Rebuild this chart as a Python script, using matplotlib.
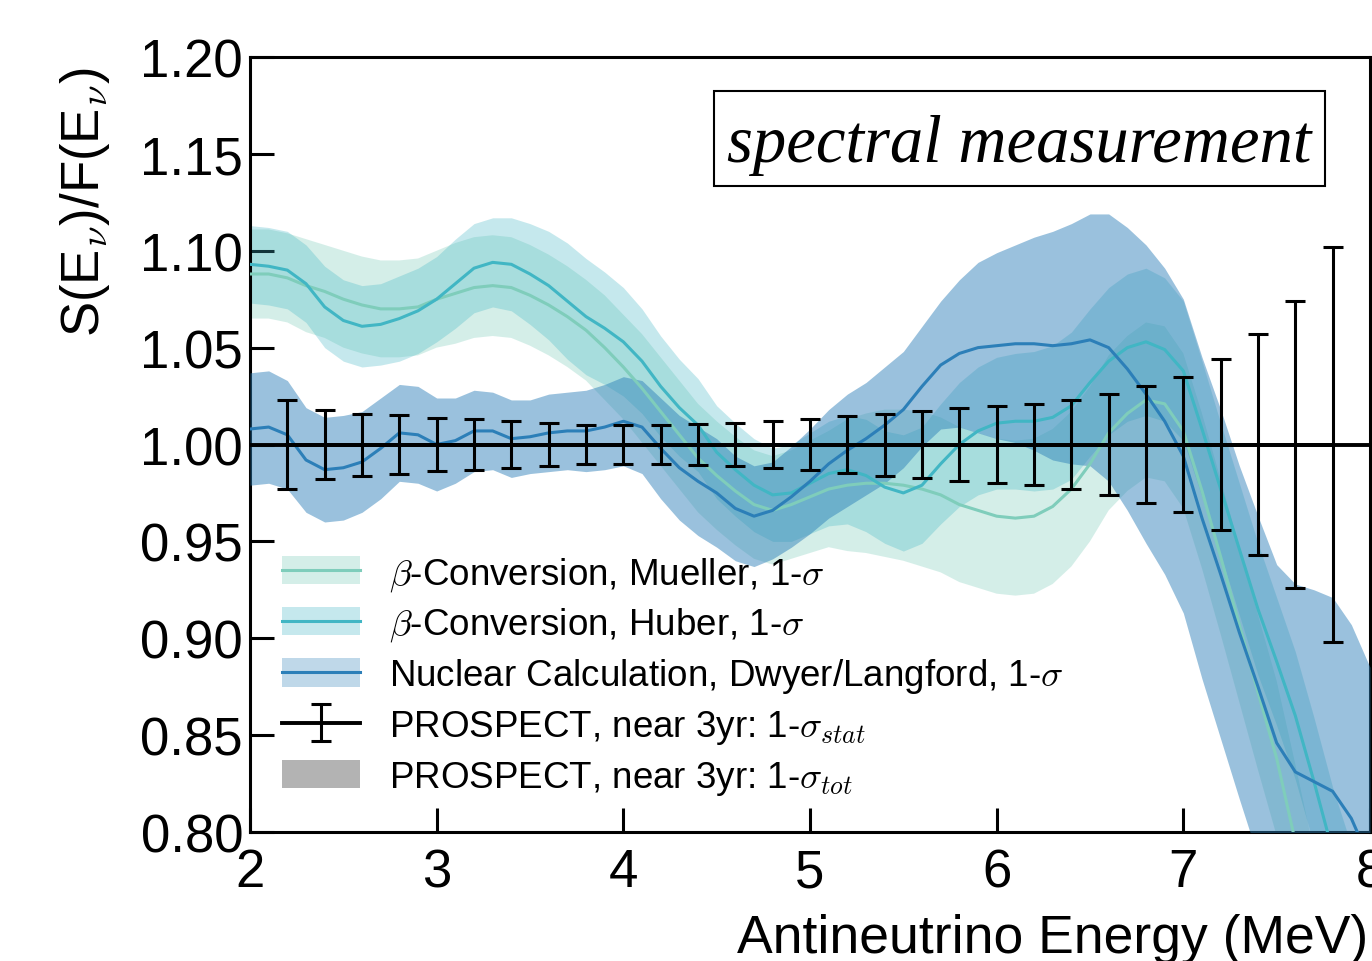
import numpy as np
import matplotlib
matplotlib.use('Agg')
import matplotlib.pyplot as plt
from matplotlib.patches import Patch, Rectangle
from matplotlib.lines import Line2D

plt.rcParams['font.family'] = ['Liberation Sans', 'DejaVu Sans']
plt.rcParams['mathtext.fontset'] = 'cm'

# ---------------- data ----------------
energy = [2.0, 2.1, 2.2, 2.3, 2.4, 2.5, 2.6, 2.7, 2.8, 2.9,
          3.0, 3.1, 3.2, 3.3, 3.4, 3.5, 3.6, 3.7, 3.8, 3.9,
          4.0, 4.1, 4.2, 4.3, 4.4, 4.5, 4.6, 4.7, 4.8, 4.9,
          5.0, 5.1, 5.2, 5.3, 5.4, 5.5, 5.6, 5.7, 5.8, 5.9,
          6.0, 6.1, 6.2, 6.3, 6.4, 6.5, 6.6, 6.7, 6.8, 6.9,
          7.0, 7.1, 7.2, 7.3, 7.4, 7.5, 7.6, 7.7, 7.8, 7.9, 8.0]

mueller = [1.088, 1.088, 1.086, 1.082, 1.079, 1.075, 1.072, 1.070, 1.070, 1.071,
           1.075, 1.078, 1.081, 1.082, 1.081, 1.077, 1.072, 1.066, 1.059, 1.050,
           1.040, 1.029, 1.017, 1.005, 0.993, 0.984, 0.976, 0.969, 0.966, 0.969,
           0.973, 0.977, 0.979, 0.980, 0.980, 0.979, 0.977, 0.974, 0.969, 0.966,
           0.963, 0.962, 0.963, 0.968, 0.977, 0.990, 1.006, 1.016, 1.023, 1.021,
           1.007, 0.976, 0.942, 0.907, 0.872, 0.838, 0.795, 0.750, 0.710, 0.680, 0.650]
mueller_err = [0.023, 0.023, 0.023, 0.024, 0.024, 0.025, 0.025, 0.025, 0.025, 0.025,
               0.025, 0.026, 0.026, 0.026, 0.026, 0.026, 0.026, 0.026, 0.026, 0.027,
               0.027, 0.028, 0.028, 0.028, 0.028, 0.028, 0.028, 0.028, 0.028, 0.028,
               0.029, 0.030, 0.034, 0.036, 0.038, 0.039, 0.040, 0.040, 0.040, 0.040,
               0.040, 0.040, 0.040, 0.040, 0.040, 0.040, 0.040, 0.040, 0.040, 0.040,
               0.040, 0.040, 0.040, 0.040, 0.040, 0.040, 0.040, 0.040, 0.040, 0.040, 0.040]

huber = [1.093, 1.092, 1.090, 1.083, 1.071, 1.064, 1.061, 1.062, 1.065, 1.069,
         1.075, 1.083, 1.091, 1.094, 1.093, 1.088, 1.082, 1.074, 1.066, 1.060,
         1.053, 1.043, 1.030, 1.019, 1.010, 0.996, 0.987, 0.979, 0.974, 0.975,
         0.980, 0.985, 0.987, 0.984, 0.978, 0.975, 0.979, 0.990, 1.000, 1.007,
         1.011, 1.012, 1.012, 1.014, 1.020, 1.032, 1.043, 1.050, 1.053, 1.049,
         1.038, 1.008, 0.977, 0.946, 0.915, 0.888, 0.860, 0.826, 0.790, 0.760, 0.730]
huber_err = [0.020, 0.020, 0.020, 0.020, 0.021, 0.021, 0.021, 0.021, 0.022, 0.022,
             0.022, 0.023, 0.023, 0.023, 0.024, 0.026, 0.028, 0.030, 0.030, 0.029,
             0.028, 0.027, 0.026, 0.025, 0.024, 0.024, 0.024, 0.024, 0.024, 0.025,
             0.026, 0.027, 0.028, 0.029, 0.029, 0.030, 0.030, 0.031, 0.032, 0.033,
             0.034, 0.035, 0.036, 0.037, 0.038, 0.038, 0.038, 0.038, 0.038, 0.037,
             0.036, 0.035, 0.034, 0.034, 0.034, 0.033, 0.033, 0.033, 0.033, 0.033, 0.033]

dwyer = [1.008, 1.009, 1.005, 0.992, 0.987, 0.988, 0.991, 0.998, 1.006, 1.005,
         1.000, 1.002, 1.007, 1.007, 1.003, 1.004, 1.006, 1.007, 1.007, 1.009,
         1.012, 1.009, 0.998, 0.988, 0.981, 0.975, 0.967, 0.963, 0.966, 0.973,
         0.981, 0.990, 0.997, 1.003, 1.010, 1.018, 1.030, 1.041, 1.047, 1.050,
         1.051, 1.052, 1.052, 1.051, 1.052, 1.054, 1.050, 1.039, 1.026, 1.012,
         0.994, 0.962, 0.933, 0.903, 0.875, 0.846, 0.831, 0.826, 0.821, 0.807, 0.785]
dwyer_err = [0.029, 0.029, 0.028, 0.027, 0.027, 0.027, 0.026, 0.026, 0.025, 0.025,
             0.024, 0.022, 0.021, 0.020, 0.020, 0.019, 0.020, 0.020, 0.021, 0.022,
             0.023, 0.024, 0.026, 0.027, 0.028, 0.028, 0.027, 0.026, 0.025, 0.026,
             0.027, 0.028, 0.029, 0.029, 0.030, 0.030, 0.031, 0.033, 0.038, 0.044,
             0.048, 0.051, 0.055, 0.059, 0.062, 0.065, 0.069, 0.073, 0.077, 0.079,
             0.081, 0.083, 0.085, 0.086, 0.088, 0.092, 0.097, 0.099, 0.100, 0.100, 0.100]

bin_centers = [2.2, 2.4, 2.6, 2.8, 3.0, 3.2, 3.4, 3.6, 3.8, 4.0,
               4.2, 4.4, 4.6, 4.8, 5.0, 5.2, 5.4, 5.6, 5.8, 6.0,
               6.2, 6.4, 6.6, 6.8, 7.0, 7.2, 7.4, 7.6, 7.8]
ratio = [1.0] * len(bin_centers)
stat_err = [0.023, 0.018, 0.016, 0.015, 0.0135, 0.013, 0.012, 0.011, 0.010, 0.010,
            0.010, 0.0105, 0.011, 0.012, 0.013, 0.0145, 0.016, 0.0175, 0.019, 0.020,
            0.021, 0.023, 0.026, 0.030, 0.035, 0.044, 0.057, 0.074, 0.102]

xticks = [2, 3, 4, 5, 6, 7, 8]
yticks = [0.80, 0.85, 0.90, 0.95, 1.00, 1.05, 1.10, 1.15, 1.20]

labels = [r'$\beta$-Conversion, Mueller, 1-$\sigma$',
          r'$\beta$-Conversion, Huber, 1-$\sigma$',
          r'Nuclear Calculation, Dwyer/Langford, 1-$\sigma$',
          r'PROSPECT, near 3yr: 1-$\sigma_{stat}$',
          r'PROSPECT, near 3yr: 1-$\sigma_{tot}$']

# ---------------- plot ----------------
c_m, c_h, c_d = '#7fcdbb', '#41b6c4', '#2c7fb8'

fig = plt.figure(figsize=(13.72, 9.62), dpi=100)
ax = fig.add_axes([250 / 1372, 1 - 833 / 962, 1120 / 1372, 775 / 962])

E = np.array(energy)
m, me = np.array(mueller), np.array(mueller_err)
h, he = np.array(huber), np.array(huber_err)
d, de = np.array(dwyer), np.array(dwyer_err)

ax.fill_between(E, m - me, m + me, color=c_m, alpha=0.33, lw=0, zorder=1)
ax.fill_between(E, h - he, h + he, color=c_h, alpha=0.30, lw=0, zorder=2)
ax.fill_between(E, d - de, d + de, color=c_d, alpha=0.48, lw=0, zorder=3)
ax.plot(E, m, color=c_m, lw=2.2, zorder=4)
ax.plot(E, h, color=c_h, lw=2.2, zorder=4.1)
ax.plot(E, d, color=c_d, lw=2.2, zorder=4.2)

ax.axhline(1.0, color='k', lw=2.8, zorder=6)
eb = ax.errorbar(bin_centers, ratio, yerr=stat_err, fmt='-', color='k', lw=2.8,
                 elinewidth=2.2, capsize=7.2, capthick=2.2, zorder=7)

ax.set_xlim(2, 8)
ax.set_ylim(0.8, 1.2)
ax.set_xticks(xticks)
ax.set_xticklabels([str(t) for t in xticks])
ax.set_yticks(yticks)
ax.set_yticklabels(['%.2f' % t for t in yticks])
ax.tick_params(axis='both', direction='in', length=17, width=2.2, labelsize=38,
               top=False, right=False)
ax.tick_params(axis='y', pad=5)
ax.tick_params(axis='x', pad=11)
for s in ax.spines.values():
    s.set_linewidth(2.2)

ax.set_xlabel('Antineutrino Energy (MeV)', fontsize=38.5, ha='right')
ax.xaxis.set_label_coords(0.998, -0.104)
ax.set_ylabel(r'S(E$_{\nu}$)/F(E$_{\nu}$)', fontsize=38, ha='center', va='center')
ax.yaxis.set_label_coords(-0.147, 0.814)

# annotation box
ax.add_patch(Rectangle((0.4143, 0.8335), 0.5455, 0.1226, transform=ax.transAxes,
                       fc='white', ec='k', lw=1.5, zorder=10))
ax.text(0.687, 0.866, 'spectral measurement', transform=ax.transAxes,
        ha='center', va='baseline', fontsize=48, family='Liberation Serif',
        style='italic', zorder=11)

# legend
h_m = (Patch(facecolor=c_m, alpha=0.33, edgecolor='none'), Line2D([], [], color=c_m, lw=2.2))
h_h = (Patch(facecolor=c_h, alpha=0.30, edgecolor='none'), Line2D([], [], color=c_h, lw=2.2))
h_d = (Patch(facecolor=c_d, alpha=0.30, edgecolor='none'), Line2D([], [], color=c_d, lw=2.2))
h_t = Patch(facecolor='#b3b3b3', edgecolor='none')
ax.legend([h_m, h_h, h_d, eb, h_t], labels, loc='lower left',
          bbox_to_anchor=(0.029, 0.045), frameon=False, fontsize=26.5,
          handlelength=2.1, handleheight=0.8, handletextpad=0.8,
          labelspacing=0.35, borderpad=0, borderaxespad=0)

fig.savefig('out.png', dpi=100)
